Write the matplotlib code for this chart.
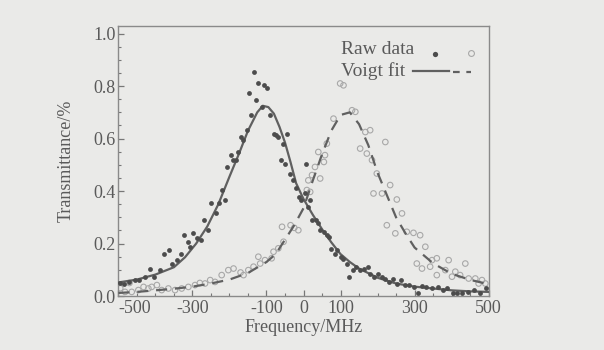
import matplotlib
matplotlib.use("Agg")
import matplotlib.pyplot as plt
from matplotlib.ticker import MultipleLocator, FormatStrFormatter

# raw data, peak near -100 MHz (filled dots)
raw1_f = [-495, -484, -471, -455, -443, -429, -414, -403, -388, -377, -362, -356, -341, -330,
          -322, -312, -307, -299, -289, -278, -268, -258, -249, -237, -228, -221, -211, -206,
          -195, -190, -183, -176, -169, -164, -153, -148, -143, -135, -127, -122, -112, -107,
          -99, -91, -81, -75, -70, -62, -55, -49, -44, -37, -29, -20, -13, -6, 3, 8, 13, 18,
          23, 34, 39, 44, 55, 63, 70, 75, 86, 91, 101, 107, 117, 122, 133, 143, 153, 164, 174,
          180, 190, 200, 211, 221, 232, 242, 252, 263, 273, 284, 299, 310, 320, 330, 346, 362,
          377, 388, 403, 414, 429, 445, 460, 476, 492]
raw1_v = [0.051, 0.048, 0.055, 0.061, 0.063, 0.071, 0.105, 0.074, 0.099, 0.162, 0.175, 0.124,
          0.137, 0.162, 0.232, 0.207, 0.188, 0.239, 0.220, 0.213, 0.289, 0.251, 0.353, 0.315,
          0.353, 0.404, 0.365, 0.492, 0.537, 0.518, 0.518, 0.549, 0.607, 0.594, 0.632, 0.772,
          0.689, 0.854, 0.746, 0.810, 0.721, 0.803, 0.791, 0.689, 0.619, 0.613, 0.607, 0.518,
          0.581, 0.505, 0.619, 0.467, 0.442, 0.410, 0.378, 0.365, 0.391, 0.505, 0.340, 0.365,
          0.289, 0.289, 0.277, 0.251, 0.245, 0.232, 0.226, 0.181, 0.162, 0.175, 0.150, 0.143,
          0.124, 0.074, 0.099, 0.112, 0.099, 0.105, 0.112, 0.086, 0.074, 0.086, 0.074, 0.067,
          0.055, 0.067, 0.048, 0.061, 0.042, 0.042, 0.036, 0.010, 0.038, 0.036, 0.029, 0.036,
          0.023, 0.029, 0.010, 0.010, 0.010, 0.016, 0.023, 0.010, 0.029]

# raw data, peak near +100 MHz (open circles)
raw2_f = [-495, -482, -470, -464, -446, -432, -419, -410, -396, -383, -365, -347, -329, -311,
          -293, -280, -266, -252, -239, -221, -203, -189, -170, -162, -149, -135, -122, -117,
          -104, -86, -81, -68, -58, -54, -35, -25, -14, 9, 13, 18, 23, 31, 40, 45, 55, 58, 63,
          81, 99, 108, 131, 140, 153, 167, 171, 180, 185, 189, 198, 212, 221, 225, 234, 248,
          252, 266, 279, 297, 306, 315, 320, 329, 342, 347, 360, 360, 383, 392, 401, 410, 423,
          437, 446, 464, 473, 482, 491]
raw2_v = [0.030, 0.016, 0.050, 0.016, 0.023, 0.035, 0.029, 0.035, 0.042, 0.023, 0.029, 0.023,
          0.029, 0.035, 0.042, 0.050, 0.048, 0.061, 0.054, 0.080, 0.099, 0.105, 0.090, 0.080,
          0.099, 0.112, 0.150, 0.124, 0.137, 0.144, 0.169, 0.182, 0.264, 0.207, 0.270, 0.260,
          0.251, 0.404, 0.441, 0.397, 0.461, 0.492, 0.549, 0.448, 0.511, 0.537, 0.581, 0.676,
          0.810, 0.803, 0.708, 0.702, 0.562, 0.625, 0.543, 0.632, 0.518, 0.391, 0.467, 0.391,
          0.587, 0.270, 0.423, 0.239, 0.368, 0.315, 0.245, 0.241, 0.124, 0.232, 0.105, 0.188,
          0.112, 0.137, 0.144, 0.080, 0.099, 0.137, 0.074, 0.093, 0.080, 0.124, 0.067, 0.067,
          0.048, 0.061, 0.048]

# Voigt fit curves
fit1_f = [-500, -450, -400, -350, -320, -290, -260, -230, -200, -175, -150, -125, -110, -95,
          -80, -65, -50, -35, -20, 0, 25, 50, 75, 100, 125, 150, 200, 250, 300, 350, 400, 450, 500]
fit1_v = [0.052, 0.063, 0.082, 0.110, 0.148, 0.200, 0.265, 0.350, 0.455, 0.540, 0.630, 0.700,
          0.725, 0.720, 0.695, 0.645, 0.585, 0.510, 0.430, 0.370, 0.310, 0.255, 0.205, 0.160,
          0.130, 0.105, 0.070, 0.048, 0.036, 0.029, 0.022, 0.018, 0.016]

fit2_f = [-500, -450, -400, -350, -300, -250, -200, -150, -100, -75, -50, -25, 0, 25, 50, 75,
          100, 125, 150, 175, 200, 225, 250, 275, 300, 350, 400, 450, 500]
fit2_v = [0.012, 0.016, 0.022, 0.028, 0.036, 0.048, 0.063, 0.088, 0.130, 0.160, 0.215, 0.270,
          0.335, 0.440, 0.540, 0.630, 0.690, 0.700, 0.655, 0.575, 0.470, 0.385, 0.300, 0.240,
          0.185, 0.125, 0.085, 0.062, 0.045]

xticks = [-500, -300, -100, 0, 100, 300, 500]
xtick_labels = ["-500", "-300", "-100", "0", "100", "300", "500"]

bg = "#eaeae8"
ink = "#5a5a5a"
dot_c = "#4c4c4c"
ring_c = "#a8a8a8"
line_c = "#606060"
plt.rcParams["font.family"] = ["Liberation Serif", "DejaVu Serif"]
plt.rcParams["axes.unicode_minus"] = False

fig = plt.figure(figsize=(6.04, 3.5), dpi=100, facecolor=bg)
ax = fig.add_axes([0.196, 0.154, 0.613, 0.771])
ax.set_facecolor(bg)

ax.plot(fit1_f, fit1_v, color=line_c, lw=1.6, zorder=3)
ax.plot(fit2_f, fit2_v, color=line_c, lw=1.6, dashes=(5, 3.5), zorder=3)
ax.scatter(raw1_f, raw1_v, s=12, color=dot_c, linewidths=0, zorder=4)
ax.scatter(raw2_f, raw2_v, s=16, facecolors="none", edgecolors=ring_c,
           linewidths=0.8, zorder=2)

ax.set_xlim(-500, 500)
ax.set_ylim(0, 1.028)
ax.set_xticks(xticks, labels=xtick_labels)
ax.xaxis.set_minor_locator(MultipleLocator(50))
ax.yaxis.set_major_locator(MultipleLocator(0.2))
ax.yaxis.set_minor_locator(MultipleLocator(0.05))
ax.yaxis.set_major_formatter(FormatStrFormatter("%.1f"))
ax.tick_params(which="both", direction="in", color="#777777", labelcolor=ink, labelsize=13)
ax.tick_params(which="major", length=4, width=0.9)
ax.tick_params(which="minor", length=2.5, width=0.8)
ax.tick_params(axis="x", pad=3)
ax.tick_params(axis="y", pad=2)
# first x label sits to the right of its tick, next to "0.0"
ax.xaxis.get_major_ticks()[0].label1.set_horizontalalignment("left")
for s in ax.spines.values():
    s.set_color("#8a8a8a")
    s.set_linewidth(1.0)

ax.set_xlabel("Frequency/MHz", fontsize=13, color=ink, labelpad=1)
ax.set_ylabel("Transmittance/%", fontsize=13, color=ink, labelpad=13)

# legend: text left, symbols to the right (as in the figure)
tr = ax.transAxes
ax.text(0.600, 0.915, "Raw data", transform=tr, fontsize=14, color=ink, va="center")
ax.text(0.600, 0.835, "Voigt fit", transform=tr, fontsize=14, color=ink, va="center")
ax.plot([0.855], [0.898], transform=tr, ls="none", marker="o", ms=3.8,
        color=dot_c, mec="none", clip_on=False)
ax.plot([0.952], [0.902], transform=tr, ls="none", marker="o", ms=4.2,
        mfc="none", mec=ring_c, mew=0.8, clip_on=False)
ax.plot([0.795, 0.893], [0.835, 0.835], transform=tr, color=line_c, lw=1.6)
ax.plot([0.905, 0.952], [0.832, 0.832], transform=tr, color=line_c, lw=1.6, dashes=(3, 3))

fig.savefig("out.png", dpi=100, facecolor=bg)
